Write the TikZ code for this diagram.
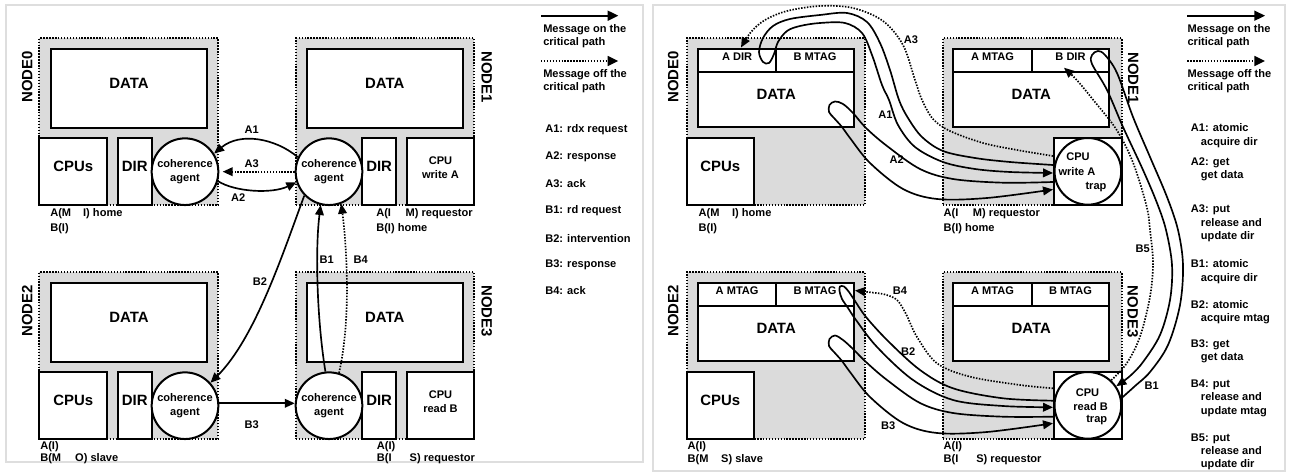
\documentclass[tikz,border=0pt]{standalone}
\usepackage{fontspec}
\setmainfont{Liberation Sans}
\usetikzlibrary{arrows.meta,fit,calc}
\newcommand\txs{\fontsize{8.3}{10}\selectfont\bfseries}
\newcommand\txb{\fontsize{11.2}{13}\selectfont\bfseries}
\tikzset{
 panel/.style={draw=black!13, line width=1pt},
 nodebox/.style={draw, line width=1.5pt, dash pattern=on 1.1pt off 1.1pt, fill=black!14, inner sep=0pt},
 wbox/.style={draw, line width=1.5pt, fill=white, inner sep=0pt, align=center},
 agent/.style={circle, draw, line width=1.5pt, fill=white, minimum size=50pt, inner sep=0pt, align=center, font=\txs},
 title/.style={font=\txb, inner sep=0pt},
 lbl/.style={font=\txs, inner sep=0pt},
 msg/.style={line width=1.25pt, line join=round, -{Triangle[length=7.5pt,width=6.5pt]}},
 msgoff/.style={msg, dash pattern=on 1.1pt off 1.1pt},
 legarr/.style={line width=1.25pt, -{Triangle[length=8pt,width=7.5pt]}},
}
\begin{document}
\begin{tikzpicture}[x=0.75pt,y=0.75pt]
\useasboundingbox (0,0) rectangle (1291,-473);
% panels
\draw[panel] (6,-5) rectangle (643,-462);
\draw[panel] (653,-5) rectangle (1285,-471);

% ================= LEFT PANEL =================
% NODE0
\node[nodebox, fit={(39.3,-38.3)(218.3,-205)}] (n0) {};
\node[wbox, fit={(50.7,-49.3)(207.3,-127.7)}, font=\txb] (d0) {DATA};
\node[wbox, fit={(39.3,-138.3)(107.3,-205)}, font=\txb] (cpu0) {CPUs};
\node[wbox, fit={(117.7,-138.3)(151.7,-205)}, font=\txb] (dir0) {DIR};
\node[agent] (ca0) at (185,-171.7) {coherence\\agent};
\node[title, rotate=90] (t0) at (27.3,-77) {NODE0};
% NODE1
\node[nodebox, fit={(296,-38.3)(474.3,-205)}] (n1) {};
\node[wbox, fit={(306.7,-49.3)(462.7,-127.7)}, font=\txb] (d1) {DATA};
\node[wbox, fit={(362.3,-138.3)(396,-205)}, font=\txb] (dir1) {DIR};
\node[wbox, fit={(406.7,-138.3)(474.3,-205)}, font=\txs] (cpu1) {CPU\\write A};
\node[agent] (ca1) at (329,-171.7) {coherence\\agent};
\node[title, rotate=-90] (t1) at (486.7,-77) {NODE1};
% NODE2
\node[nodebox, fit={(39.3,-272.3)(218.3,-439)}] (n2) {};
\node[wbox, fit={(50.7,-283.3)(207.3,-361.7)}, font=\txb] (d2) {DATA};
\node[wbox, fit={(39.3,-372.3)(107.3,-439)}, font=\txb] (cpu2) {CPUs};
\node[wbox, fit={(117.7,-372.3)(151.7,-439)}, font=\txb] (dir2) {DIR};
\node[agent] (ca2) at (185,-405.7) {coherence\\agent};
\node[title, rotate=90] (t2) at (27.3,-311) {NODE2};
% NODE3
\node[nodebox, fit={(296,-272.3)(474.3,-439)}] (n3) {};
\node[wbox, fit={(306.7,-283.3)(462.7,-361.7)}, font=\txb] (d3) {DATA};
\node[wbox, fit={(362.3,-372.3)(396,-439)}, font=\txb] (dir3) {DIR};
\node[wbox, fit={(406.7,-372.3)(474.3,-439)}, font=\txs] (cpu3) {CPU\\read B};
\node[agent] (ca3) at (329,-405.7) {coherence\\agent};
\node[title, rotate=-90] (t3) at (486.7,-311) {NODE3};
% states
\node[lbl, anchor=west] (s0a) at (50,-213.3) {A(M\hspace{9pt}I) home};
\node[lbl, anchor=west] (s0b) at (50,-228.3) {B(I)};
\node[lbl, anchor=west] (s1a) at (376,-213.3) {A(I\hspace{11pt}M) requestor};
\node[lbl, anchor=west] (s1b) at (376,-228.3) {B(I) home};
\node[lbl, anchor=west] (s2a) at (40,-446.7) {A(I)};
\node[lbl, anchor=west] (s2b) at (40,-459) {B(M\hspace{10.5pt}O) slave};
\node[lbl, anchor=west] (s3a) at (376.7,-446.7) {A(I)};
\node[lbl, anchor=west] (s3b) at (376.7,-459) {B(I\hspace{13.5pt}S) requestor};
% messages
\draw[msg] (ca1.155) .. controls (275,-138) and (240,-132) .. (ca0.32);
\draw[msgoff, shorten >=2.5pt] (ca1.west) -- (ca0.east);
\draw[msg] (ca0.-16) .. controls (235,-192) and (272,-194) .. (ca1.198);
\draw[msg] (ca1.224) .. controls (283,-253) and (255.3,-338) .. (ca2.42);
\draw[msg] (ca3.96) .. controls (317,-320) and (315,-250) .. (ca1.-104);
\draw[msgoff] (ca3.73) .. controls (351,-320) and (347,-250) .. (ca1.-69);
\draw[msg] (ca2.4) -- (ca3.176);
\node[lbl] (la1) at (251.7,-130) {A1};
\node[lbl] (la3) at (251.7,-163.3) {A3};
\node[lbl] (la2) at (238.3,-197.3) {A2};
\node[lbl] (lb2) at (260,-281.7) {B2};
\node[lbl] (lb1) at (326.7,-259.3) {B1};
\node[lbl] (lb4) at (360.7,-259.3) {B4};
\node[lbl] (lb3) at (251.7,-424.3) {B3};
% legend
\coordinate (lg1s) at (541,-15.7); \coordinate (lg1e) at (618.3,-15.7);
\coordinate (lg2s) at (541,-61); \coordinate (lg2e) at (618.3,-61);
\draw[legarr] (lg1s) -- (lg1e);
\draw[legarr, dash pattern=on 1.1pt off 1.1pt] (lg2s) -- (lg2e);
\node[lbl, anchor=west, align=left] (lgt1) at (543,-36.3) {Message on the\\critical path};
\node[lbl, anchor=west, align=left] (lgt2) at (543,-81.2) {Message off the\\critical path};
\node[lbl, anchor=west] (li1) at (545,-130) {A1: rdx request};
\node[lbl, anchor=west] (li2) at (545,-156.7) {A2: response};
\node[lbl, anchor=west] (li3) at (545,-183.3) {A3: ack};
\node[lbl, anchor=west] (li4) at (545,-210.7) {B1: rd request};
\node[lbl, anchor=west] (li5) at (545,-238.3) {B2: intervention};
\node[lbl, anchor=west] (li6) at (545,-265) {B3: response};
\node[lbl, anchor=west] (li7) at (545,-291) {B4: ack};

% ================= RIGHT PANEL =================
% NODE0
\node[nodebox, fit={(686.7,-38.3)(865,-205)}] (rn0) {};
\node[wbox, fit={(698.3,-49.3)(776,-71.7)}, font=\txs] (ra0) {A DIR};
\node[wbox, fit={(776,-49.3)(854,-71.7)}, font=\txs] (rb0) {B MTAG};
\node[wbox, fit={(698.3,-71.7)(854,-127.3)}, font=\txb] (rd0) {DATA};
\node[wbox, fit={(686.7,-138.3)(754,-205)}, font=\txb] (rcp0) {CPUs};
\node[title, rotate=90] (rt0) at (673.3,-77) {NODE0};
% NODE1
\node[nodebox, fit={(942.7,-38.3)(1121.7,-205)}] (rn1) {};
\node[wbox, fit={(953.3,-49.3)(1031.7,-71.7)}, font=\txs] (ra1) {A MTAG};
\node[wbox, fit={(1031.7,-49.3)(1109.3,-71.7)}, font=\txs] (rb1) {B DIR};
\node[wbox, fit={(953.3,-71.7)(1109.3,-127.3)}, font=\txb] (rd1) {DATA};
\node[wbox, fit={(1054,-137.7)(1121.7,-205)}] (rcpu1) {};
\node[agent] (rc1) at (1087.85,-171.35) {};
\node[lbl] (rc1a) at (1078,-156.7) {CPU};
\node[lbl] (rc1b) at (1077,-171.7) {write A};
\node[lbl] (rc1c) at (1096,-186.7) {trap};
\node[title, rotate=-90] (rt1) at (1133.3,-78) {NODE1};
% NODE2
\node[nodebox, fit={(686.7,-272.3)(865,-439)}] (rn2) {};
\node[wbox, fit={(698.3,-283.3)(776,-305.7)}, font=\txs] (ra2) {A MTAG};
\node[wbox, fit={(776,-283.3)(854,-305.7)}, font=\txs] (rb2) {B MTAG};
\node[wbox, fit={(698.3,-305.7)(854,-361.3)}, font=\txb] (rd2) {DATA};
\node[wbox, fit={(686.7,-372.3)(754,-439)}, font=\txb] (rcp2) {CPUs};
\node[title, rotate=90] (rt2) at (673.3,-311) {NODE2};
% NODE3
\node[nodebox, fit={(942.7,-272.3)(1121.7,-439)}] (rn3) {};
\node[wbox, fit={(953.3,-283.3)(1031.7,-305.7)}, font=\txs] (ra3) {A MTAG};
\node[wbox, fit={(1031.7,-283.3)(1109.3,-305.7)}, font=\txs] (rb3) {B MTAG};
\node[wbox, fit={(953.3,-305.7)(1109.3,-361.3)}, font=\txb] (rd3) {DATA};
\node[wbox, fit={(1054,-371.7)(1121.7,-439)}] (rcpu3) {};
\node[agent] (rc3) at (1087.85,-405.35) {};
\node[lbl] (rc3a) at (1087.5,-392.3) {CPU};
\node[lbl] (rc3b) at (1090.6,-406.7) {read B};
\node[lbl] (rc3c) at (1096.7,-420) {trap};
\node[title, rotate=-90] (rt3) at (1132.7,-311.7) {NODE3};
% states
\node[lbl, anchor=west] (rs0a) at (698.3,-213.3) {A(M\hspace{9.5pt}I) home};
\node[lbl, anchor=west] (rs0b) at (698.3,-228.3) {B(I)};
\node[lbl, anchor=west] (rs1a) at (943.3,-213.3) {A(I\hspace{11pt}M) requestor};
\node[lbl, anchor=west] (rs1b) at (943.3,-228.3) {B(I) home};
\node[lbl, anchor=west] (rs2a) at (687.3,-446.7) {A(I)};
\node[lbl, anchor=west] (rs2b) at (687.3,-460) {B(M\hspace{9.5pt}S) slave};
\node[lbl, anchor=west] (rs3a) at (943.3,-446.7) {A(I)};
\node[lbl, anchor=west] (rs3b) at (943.3,-460) {B(I\hspace{13.5pt}S) requestor};
% end points
\coordinate (a3s) at (rcpu1.west |- 0,-156);
\coordinate (a1s) at (rcpu1.west |- 0,-165);
\coordinate (a1e) at (rcpu1.west |- 0,-173);
\coordinate (a2s) at (rcpu1.west |- 0,-182);
\coordinate (a2e) at (rcpu1.west |- 0,-189.5);
\coordinate (a3e) at (741,-47.5);
\coordinate (b4s) at (rcpu3.west |- 0,-388.3);
\coordinate (b2s) at (rcpu3.west |- 0,-400.7);
\coordinate (b2e) at (rcpu3.west |- 0,-407.3);
\coordinate (b3s) at (rcpu3.west |- 0,-416.7);
\coordinate (b3e) at (rcpu3.west |- 0,-423.3);
\coordinate (b4e) at (rb2.east |- 0,-290.5);
\coordinate (b5e) at ($(rb1.south west)+(33.3,5)$);
% messages
\draw[msgoff] plot[smooth, tension=0.55] coordinates {(a3s) (1017,-150) (983,-143) (950,-131) (933,-119) (922,-100) (915,-80) (903,-45) (883,-21) (853,-8) (820,-6) (787,-11) (765,-20) (751,-32) (a3e)};
\draw[msg] plot[smooth, tension=0.55] coordinates {(a1s) (1010,-162) (975,-158) (943,-151) (922,-137) (908,-118) (899,-100) (890,-70) (880,-43) (867,-22) (847,-13) (820,-15) (790,-19) (773,-26) (763,-38) (759,-52) (763,-62) (769,-63) (774,-54) (778,-42) (787,-31) (800,-26) (820,-23) (845,-23) (862,-33) (872,-55) (882,-85) (889,-100) (898,-125) (915,-147) (943,-162) (975,-169) (1010,-172) (a1e)};
\draw[msg] plot[smooth, tension=0.55] coordinates {(a2s) (1003,-182.7) (953,-179) (920,-169) (887,-146) (866,-128) (853,-113) (843,-104) (835,-101.5) (829.5,-105) (829,-112) (834,-118) (842,-127) (850,-138) (870,-163) (903,-189) (937,-199) (987,-198) (a2e)};
\draw[msg] plot[smooth, tension=0.55] coordinates {(b2s) (1003,-398.3) (953,-388.3) (920,-370) (888,-341) (866,-317) (855,-301) (849,-292) (844,-286.5) (840,-286.5) (839.5,-291) (842,-299) (848,-308) (856,-320) (877,-347) (913,-380) (953,-400) (1003,-406) (b2e)};
\draw[msg] plot[smooth, tension=0.55] coordinates {(b3s) (1003,-416.7) (953,-413) (920,-403) (887,-380) (866,-362) (853,-349) (843,-340) (835,-335.5) (829.5,-339) (829,-346) (834,-352) (842,-361) (850,-372) (870,-397) (903,-423) (937,-433) (987,-432) (b3e)};
\draw[msgoff] plot[smooth, tension=0.55] coordinates {(b4s) (1020,-385) (970,-376.7) (937,-363.3) (917,-337) (906,-314) (897,-300) (885,-294.5) (870,-292.3) (b4e)};
\draw[msg] plot[smooth, tension=0.55] coordinates {(rc3.12) (1135,-386) (1150,-372) (1168,-345) (1180,-305) (1183,-265) (1178,-230) (1167,-197) (1150,-157) (1133,-117) (1117,-73) (1105,-55) (1098,-51) (1092,-55) (1092,-64) (1107,-90) (1123,-127) (1143,-170) (1157,-203) (1166,-230) (1172,-265) (1170,-300) (1160,-335) (1143,-362) (1130,-376) (rc3.34)};
\draw[msgoff] plot[smooth, tension=0.55] coordinates {(rc3.47) (1126.7,-363.3) (1140,-336.7) (1150,-296.7) (1153,-263) (1150,-230) (1146.7,-206.7) (1133.3,-163.3) (1116.7,-130) (1093.3,-100) (1076.7,-80) (b5e)};
\node[lbl] (rla3) at (911,-40) {A3};
\node[lbl] (rla1) at (885.5,-115) {A1};
\node[lbl] (rla2) at (896.7,-159.3) {A2};
\node[lbl] (rlb4) at (900,-291) {B4};
\node[lbl] (rlb2) at (908.3,-351.7) {B2};
\node[lbl] (rlb3) at (888.3,-426) {B3};
\node[lbl] (rlb1) at (1151.7,-386) {B1};
\node[lbl] (rlb5) at (1142.7,-248.3) {B5};
% legend
\coordinate (rg1s) at (1187.3,-15.7); \coordinate (rg1e) at (1265,-15.7);
\coordinate (rg2s) at (1187.3,-61); \coordinate (rg2e) at (1265,-61);
\draw[legarr] (rg1s) -- (rg1e);
\draw[legarr, dash pattern=on 1.1pt off 1.1pt] (rg2s) -- (rg2e);
\node[lbl, anchor=west, align=left] (rgt1) at (1187.3,-36.3) {Message on the\\critical path};
\node[lbl, anchor=west, align=left] (rgt2) at (1187.3,-81.2) {Message off the\\critical path};
\node[lbl, anchor=west, align=left] (ri1) at (1190.7,-135.5) {A1: atomic\\\hspace*{7.5pt}acquire dir};
\node[lbl, anchor=west, align=left] (ri2) at (1190.7,-169.2) {A2: get\\\hspace*{7.5pt}get data};
\node[lbl, anchor=west, align=left] (ri3) at (1190.7,-223.3) {A3: put\\\hspace*{7.5pt}release and\\\hspace*{7.5pt}update dir};
\node[lbl, anchor=west, align=left] (ri4) at (1190.7,-271.7) {B1: atomic\\\hspace*{7.5pt}acquire dir};
\node[lbl, anchor=west, align=left] (ri5) at (1190.7,-312.2) {B2: atomic\\\hspace*{7.5pt}acquire mtag};
\node[lbl, anchor=west, align=left] (ri6) at (1190.7,-351.3) {B3: get\\\hspace*{7.5pt}get data};
\node[lbl, anchor=west, align=left] (ri7) at (1190.7,-398.1) {B4: put\\\hspace*{7.5pt}release and\\\hspace*{7.5pt}update mtag};
\node[lbl, anchor=west, align=left] (ri8) at (1190.7,-452) {B5: put\\\hspace*{7.5pt}release and\\\hspace*{7.5pt}update dir};
\end{tikzpicture}
\end{document}
